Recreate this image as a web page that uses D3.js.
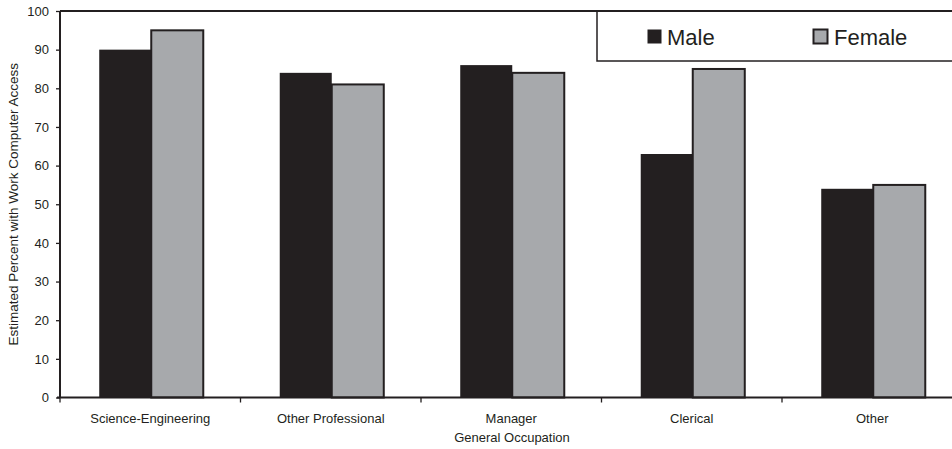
<!DOCTYPE html>
<html>
<head>
<meta charset="utf-8">
<script src="https://cdn.jsdelivr.net/npm/d3@7"></script>
<style>
  html, body { margin: 0; padding: 0; background: #fff; }
  svg { display: block; }
  text { font-family: "Liberation Sans", Arial, Helvetica, sans-serif; fill: #231f20; }
</style>
</head>
<body>
<svg id="chart" width="952" height="449"></svg>
<script>
// Estimated percent with work computer access, by occupation and sex
const categories = ["Science-Engineering", "Other Professional", "Manager", "Clerical", "Other"];
const seriesNames = ["Male", "Female"];
const maleValues = [90, 84, 86, 63, 54];
const femaleValues = [95, 81, 84, 85, 55];
const yTicks = [0, 10, 20, 30, 40, 50, 60, 70, 80, 90, 100];

const ink = "#231f20";
const colors = { Male: "#231f20", Female: "#a7a9ac" };

const svg = d3.select("#chart");

// Plot frame (the right side runs past the canvas edge)
const plotLeft = 60, plotRight = 962.5, plotTop = 11, plotBottom = 397.5;

const x0 = d3.scaleBand().domain(categories).range([plotLeft, plotRight]).paddingInner(0).paddingOuter(0);
const x1 = d3.scaleBand().domain(seriesNames).range([0, x0.bandwidth()]).paddingInner(0).paddingOuter(0.735);
const y = d3.scaleLinear().domain([0, 100]).range([plotBottom, plotTop]);

const rows = categories.map((c, i) => ({ cat: c, Male: maleValues[i], Female: femaleValues[i] }));

// Bars
const groups = svg.append("g").selectAll("g").data(rows).join("g")
  .attr("transform", d => `translate(${x0(d.cat) + 1},0)`);

groups.selectAll("rect").data(d => seriesNames.map(k => ({ key: k, value: d[k] }))).join("rect")
  .attr("x", d => x1(d.key))
  .attr("y", d => y(d.value))
  .attr("width", x1.bandwidth())
  .attr("height", d => y(0) - y(d.value))
  .attr("fill", d => colors[d.key])
  .attr("stroke", d => d.key === "Female" ? ink : "none")
  .attr("stroke-width", 2);

// Top frame line
svg.append("line")
  .attr("x1", plotLeft).attr("x2", plotRight).attr("y1", plotTop).attr("y2", plotTop)
  .attr("stroke", ink).attr("stroke-width", 2);

// Y axis
const yAxis = svg.append("g")
  .attr("transform", `translate(${plotLeft},0)`)
  .call(d3.axisLeft(y).tickValues(yTicks).tickSize(4).tickPadding(7).tickFormat(d3.format("d")));
yAxis.select(".domain").attr("stroke", ink).attr("stroke-width", 2).attr("d", `M0,${plotBottom}V${plotTop}`);
yAxis.selectAll(".tick line").attr("stroke", ink).attr("stroke-width", 1.3);
yAxis.selectAll(".tick text").attr("font-size", 13).attr("fill", ink)
  .attr("font-family", "'Liberation Sans', Arial, sans-serif");

// X axis with ticks at category boundaries
const boundaries = categories.map(c => x0(c)).concat([plotRight]);
const xAxis = svg.append("g").attr("transform", `translate(0,${plotBottom})`);
xAxis.append("line").attr("x1", plotLeft - 3).attr("x2", plotRight).attr("y1", 0).attr("y2", 0)
  .attr("stroke", ink).attr("stroke-width", 2);
xAxis.selectAll("line.btick").data(boundaries).join("line").attr("class", "btick")
  .attr("x1", d => d).attr("x2", d => d).attr("y1", 0).attr("y2", 5)
  .attr("stroke", ink).attr("stroke-width", 1.3);
xAxis.selectAll("text.cat").data(categories).join("text").attr("class", "cat")
  .attr("x", d => x0(d) + x0.bandwidth() / 2)
  .attr("y", 25)
  .attr("text-anchor", "middle")
  .attr("font-size", 13)
  .text(d => d);

// Axis titles
svg.append("text")
  .attr("x", 512).attr("y", 442)
  .attr("text-anchor", "middle")
  .attr("font-size", 13)
  .text("General Occupation");

svg.append("text")
  .attr("transform", `translate(17.5,${(plotTop + plotBottom) / 2}) rotate(-90)`)
  .attr("text-anchor", "middle")
  .attr("font-size", 13.5)
  .text("Estimated Percent with Work Computer Access");

// Legend box (open to the right)
const legend = svg.append("g");
legend.append("rect")
  .attr("x", 597).attr("y", plotTop).attr("width", 400).attr("height", 50)
  .attr("fill", "#fff").attr("stroke", ink).attr("stroke-width", 1.5);
legend.append("line")
  .attr("x1", 597).attr("x2", 952).attr("y1", plotTop).attr("y2", plotTop)
  .attr("stroke", ink).attr("stroke-width", 2);

const legendItems = [
  { key: "Male", sx: 647.5, tx: 667 },
  { key: "Female", sx: 813.5, tx: 834 }
];
legendItems.forEach(it => {
  legend.append("rect")
    .attr("x", it.sx).attr("y", 29.5).attr("width", 14).attr("height", 14)
    .attr("fill", colors[it.key])
    .attr("stroke", ink).attr("stroke-width", it.key === "Female" ? 2 : 0);
  legend.append("text")
    .attr("x", it.tx).attr("y", 45)
    .attr("font-size", 22)
    .text(it.key);
});
</script>
</body>
</html>
